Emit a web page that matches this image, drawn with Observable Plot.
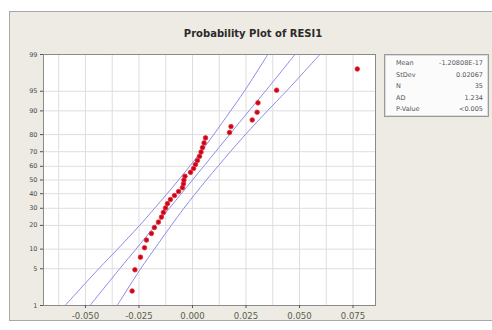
<!DOCTYPE html>
<html>
<head>
<meta charset="utf-8">
<script src="https://cdn.jsdelivr.net/npm/d3@7"></script>
<script src="https://cdn.jsdelivr.net/npm/@observablehq/plot@0.6"></script>
<style>
  html, body { margin: 0; padding: 0; background: #ffffff; }
  #wrap { position: relative; width: 492px; height: 330px; overflow: hidden; font-family: "DejaVu Sans", Verdana, sans-serif; }
  #panel { position: absolute; left: 9px; top: 11px; width: 484px; height: 310px; background: #eeeae4; border: 1px solid #a8a8a8; box-sizing: border-box; }
  #title { position: absolute; left: 0; width: 506px; top: 28px; text-align: center; font-weight: bold; font-size: 10px; color: #2a2a2a; }
  #chart { position: absolute; left: 0; top: 0; }
  #stats { position: absolute; left: 384px; top: 54px; width: 105px; height: 63px; background: #fbfbfb; border: 1px solid #9a9a9a; box-shadow: inset 0 0 0 1px #dcdcdc; box-sizing: border-box; padding: 3px 5px 0 11px; font-size: 6.5px; color: #555; }
  #stats .row { display: flex; justify-content: space-between; height: 11.5px; line-height: 11.5px; }
</style>
</head>
<body>
<div id="wrap">
  <div id="panel"></div>
  <div id="title">Probability Plot of RESI1</div>
  <div id="chart"></div>
  <div id="stats"></div>
</div>
<script>
const resid = [-0.0282, -0.0269, -0.0243, -0.0224, -0.0215, -0.0192, -0.0178, -0.0159, -0.0145, -0.0136,
               -0.0126, -0.0117, -0.0103, -0.0084, -0.0065, -0.0047, -0.0042, -0.0040, -0.0035, -0.0009,
                0.0005,  0.0014,  0.0023,  0.0033,  0.0040,  0.0047,  0.0054,  0.0061,  0.0173,  0.0180,
                0.0279,  0.0302,  0.0306,  0.0393,  0.0770];
const percent = [1.98, 4.80, 7.63, 10.45, 13.28, 16.10, 18.93, 21.75, 24.58, 27.40,
                 30.23, 33.05, 35.88, 38.70, 41.53, 44.35, 47.18, 50.00, 52.82, 55.65,
                 58.47, 61.30, 64.12, 66.95, 69.77, 72.60, 75.42, 78.25, 81.07, 83.90,
                 86.72, 89.55, 92.37, 95.20, 98.02];

// Fitted line and 95% confidence bands, read at the percent tick levels
const bandPercent = [1, 5, 10, 20, 30, 50, 70, 80, 90, 95, 99];
const fitX   = [-0.0479, -0.0340, -0.0264, -0.0173, -0.0108, 0.0000, 0.0108, 0.0173, 0.0264, 0.0340, 0.0479];
const lowerX = [-0.0595, -0.0438, -0.0350, -0.0247, -0.0177, -0.0065, 0.0040, 0.0099, 0.0178, 0.0242, 0.0352];
const upperX = [-0.0352, -0.0242, -0.0178, -0.0099, -0.0040, 0.0065, 0.0177, 0.0247, 0.0350, 0.0438, 0.0595];

// Axis ticks
const yTicks = [1, 5, 10, 20, 30, 40, 50, 60, 70, 80, 90, 95, 99];
const xTicks = [-0.05, -0.025, 0, 0.025, 0.05, 0.075];
const xGrid = [-0.0625, -0.05, -0.0375, -0.025, -0.0125, 0, 0.0125, 0.025, 0.0375, 0.05, 0.0625, 0.075];

// Stats box
const statLabels = ["Mean", "StDev", "N", "AD", "P-Value"];
const statValues = ["-1.20808E-17", "0.02067", "35", "1.234", "<0.005"];

// Normal quantile (probit) used for the probability scale
function probit(p) {
  const a = [-3.969683028665376e+01, 2.209460984245205e+02, -2.759285104469687e+02, 1.383577518672690e+02, -3.066479806614716e+01, 2.506628277459239e+00];
  const b = [-5.447609879822406e+01, 1.615858368580409e+02, -1.556989798598866e+02, 6.680131188771972e+01, -1.328068155288572e+01];
  const c = [-7.784894002430293e-03, -3.223964580411365e-01, -2.400758277161838e+00, -2.549732539343734e+00, 4.374664141464968e+00, 2.938163982698783e+00];
  const d = [7.784695709041462e-03, 3.224671290700398e-01, 2.445134137142996e+00, 3.754408661907416e+00];
  const pl = 0.02425;
  let q, r;
  if (p < pl) {
    q = Math.sqrt(-2 * Math.log(p));
    return (((((c[0]*q+c[1])*q+c[2])*q+c[3])*q+c[4])*q+c[5]) / ((((d[0]*q+d[1])*q+d[2])*q+d[3])*q+1);
  } else if (p <= 1 - pl) {
    q = p - 0.5; r = q * q;
    return (((((a[0]*r+a[1])*r+a[2])*r+a[3])*r+a[4])*r+a[5])*q / (((((b[0]*r+b[1])*r+b[2])*r+b[3])*r+b[4])*r+1);
  } else {
    q = Math.sqrt(-2 * Math.log(1 - p));
    return -(((((c[0]*q+c[1])*q+c[2])*q+c[3])*q+c[4])*q+c[5]) / ((((d[0]*q+d[1])*q+d[2])*q+d[3])*q+1);
  }
}
const z = pc => probit(pc / 100);

const points = resid.map((x, i) => ({x, y: z(percent[i])}));
const band = (xs, name) => xs.map((x, i) => ({x, y: z(bandPercent[i]), name}));
const lines = [...band(lowerX, "lower"), ...band(fitX, "fit"), ...band(upperX, "upper")];

const yLabel = new Map(yTicks.map(t => [z(t), String(t)]));

const plot = Plot.plot({
  width: 380,
  height: 330,
  marginLeft: 43,
  marginRight: 5,
  marginTop: 54,
  marginBottom: 25,
  style: {background: "transparent", fontFamily: "DejaVu Sans, Verdana, sans-serif", color: "#4a4a4a"},
  x: {domain: [-0.0696, 0.0855]},
  y: {domain: [z(1), z(99)]},
  marks: [
    Plot.frame({fill: "white"}),
    Plot.ruleX(xGrid, {stroke: "#dedede", strokeWidth: 1}),
    Plot.ruleY(yTicks.map(z), {stroke: "#dedede", strokeWidth: 1}),
    Plot.line(lines, {x: "x", y: "y", z: "name", stroke: "#8c8cea", strokeWidth: 1, curve: "catmull-rom", clip: true}),
    Plot.dot(points, {x: "x", y: "y", r: 2.3, fill: "#c4081c", stroke: "#ee2a36", strokeWidth: 0.8}),
    Plot.frame({stroke: "#8a8a8a"}),
    Plot.axisY(yTicks.map(z), {tickSize: 3, tickPadding: 3, fontSize: 6.5, stroke: "#555", tickFormat: v => yLabel.get(v), label: null}),
    Plot.axisX(xTicks, {tickSize: 3, tickPadding: 4, fontSize: 8.5, stroke: "#555", fill: "#55604a", tickFormat: v => v.toFixed(3), label: null})
  ]
});
document.getElementById("chart").appendChild(plot);

const stats = document.getElementById("stats");
statLabels.forEach((l, i) => {
  const row = document.createElement("div");
  row.className = "row";
  row.innerHTML = `<span>${l}</span><span>${statValues[i]}</span>`;
  stats.appendChild(row);
});
</script>
</body>
</html>
